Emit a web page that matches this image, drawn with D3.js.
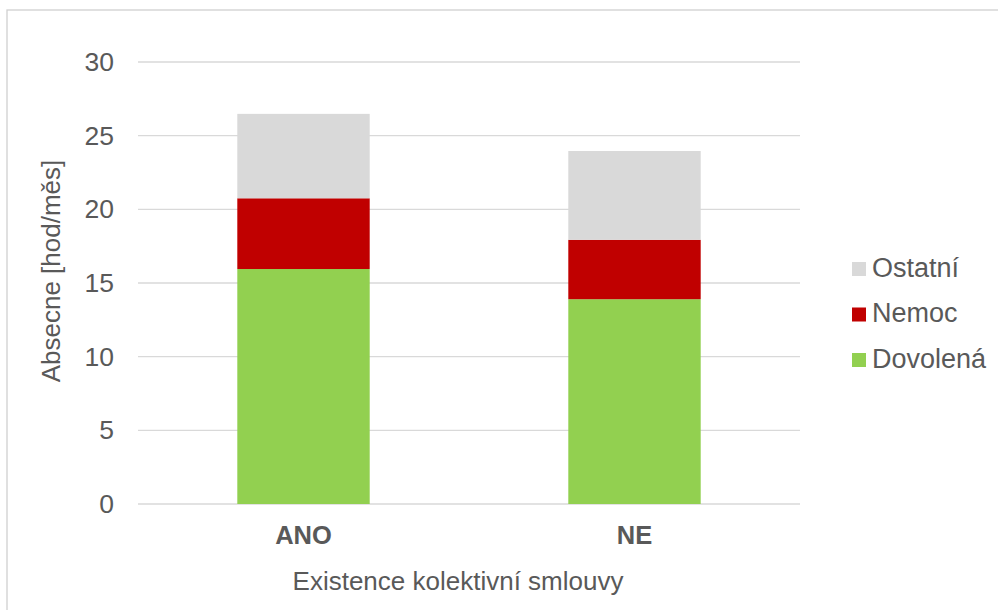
<!DOCTYPE html>
<html>
<head>
<meta charset="utf-8">
<script src="https://cdn.jsdelivr.net/npm/d3@7"></script>
<style>
  body { margin: 0; background: #fff; }
  text { font-family: "Liberation Sans", Arial, sans-serif; fill: #595959; }
</style>
</head>
<body>
<div id="chart"></div>
<script>
// data
var categories = ["ANO", "NE"];
var seriesNames = ["Dovolená", "Nemoc", "Ostatní"];
var dovolena = [15.95, 13.9];
var nemoc = [4.8, 4.03];
var ostatni = [5.73, 6.03];
var yTicks = [0, 5, 10, 15, 20, 25, 30];
var colors = ["#92d050", "#c00000", "#d9d9d9"];

var W = 998, H = 610;
var margin = {top: 62, right: 198, bottom: 106, left: 138},
    width = W - margin.left - margin.right,
    height = H - margin.top - margin.bottom;

var svg = d3.select("#chart").append("svg")
    .attr("width", W)
    .attr("height", H);

// outer frame
svg.append("rect")
    .attr("x", 7).attr("y", 10)
    .attr("width", W + 10).attr("height", H + 10)
    .attr("fill", "none")
    .attr("stroke", "#d0d0d0")
    .attr("stroke-width", 1.3);

var g = svg.append("g")
    .attr("transform", "translate(" + margin.left + "," + margin.top + ")");

var table = categories.map(function(c, i) {
  return {cat: c, "Dovolená": dovolena[i], "Nemoc": nemoc[i], "Ostatní": ostatni[i]};
});

var x = d3.scaleBand()
    .domain(categories)
    .range([0, width])
    .paddingInner(0.6)
    .paddingOuter(0.3);

var y = d3.scaleLinear()
    .domain([0, 30])
    .range([height, 0]);

var z = d3.scaleOrdinal().domain(seriesNames).range(colors);

// gridlines
g.append("g")
  .selectAll("line")
  .data(yTicks)
  .enter().append("line")
    .attr("x1", 0).attr("x2", width)
    .attr("y1", function(d) { return y(d); })
    .attr("y2", function(d) { return y(d); })
    .attr("stroke", "#d9d9d9")
    .attr("stroke-width", 1.3);

// y axis labels
var yAxis = g.append("g")
    .call(d3.axisLeft(y).tickValues(yTicks).tickSize(0).tickPadding(24));
yAxis.select(".domain").remove();
yAxis.selectAll("text")
    .attr("font-size", 26.5)
    .style("font-family", "'Liberation Sans', Arial, sans-serif")
    .attr("fill", "#595959");

// stacked bars
var stack = d3.stack().keys(seriesNames);
g.selectAll(".serie")
  .data(stack(table))
  .enter().append("g")
    .attr("class", "serie")
    .attr("fill", function(d) { return z(d.key); })
  .selectAll("rect")
  .data(function(d) { return d; })
  .enter().append("rect")
    .attr("x", function(d) { return x(d.data.cat); })
    .attr("y", function(d) { return y(d[1]); })
    .attr("height", function(d) { return y(d[0]) - y(d[1]); })
    .attr("width", x.bandwidth());

// x axis
var xAxis = g.append("g")
    .attr("transform", "translate(0," + height + ")")
    .call(d3.axisBottom(x).tickSize(0).tickPadding(22));
xAxis.select(".domain").remove();
xAxis.selectAll("text")
    .attr("font-size", 25.5)
    .attr("font-weight", "bold")
    .style("font-family", "'Liberation Sans', Arial, sans-serif")
    .attr("fill", "#595959");

// axis titles
svg.append("text")
    .attr("x", 458)
    .attr("y", 590)
    .attr("text-anchor", "middle")
    .attr("font-size", 26)
    .text("Existence kolektivní smlouvy");

svg.append("text")
    .attr("transform", "translate(60,271) rotate(-90)")
    .attr("text-anchor", "middle")
    .attr("font-size", 26)
    .text("Absecne [hod/měs]");

// legend (reverse order, top = Ostatní)
var legend = svg.append("g")
  .selectAll("g")
  .data(seriesNames.slice().reverse())
  .enter().append("g")
    .attr("transform", function(d, i) { return "translate(852," + (262 + i * 45.5) + ")"; });

legend.append("rect")
    .attr("width", 14).attr("height", 14)
    .attr("fill", function(d) { return z(d); });

legend.append("text")
    .attr("x", 20)
    .attr("y", 14.5)
    .attr("font-size", 27)
    .text(function(d) { return d; });
</script>
</body>
</html>
